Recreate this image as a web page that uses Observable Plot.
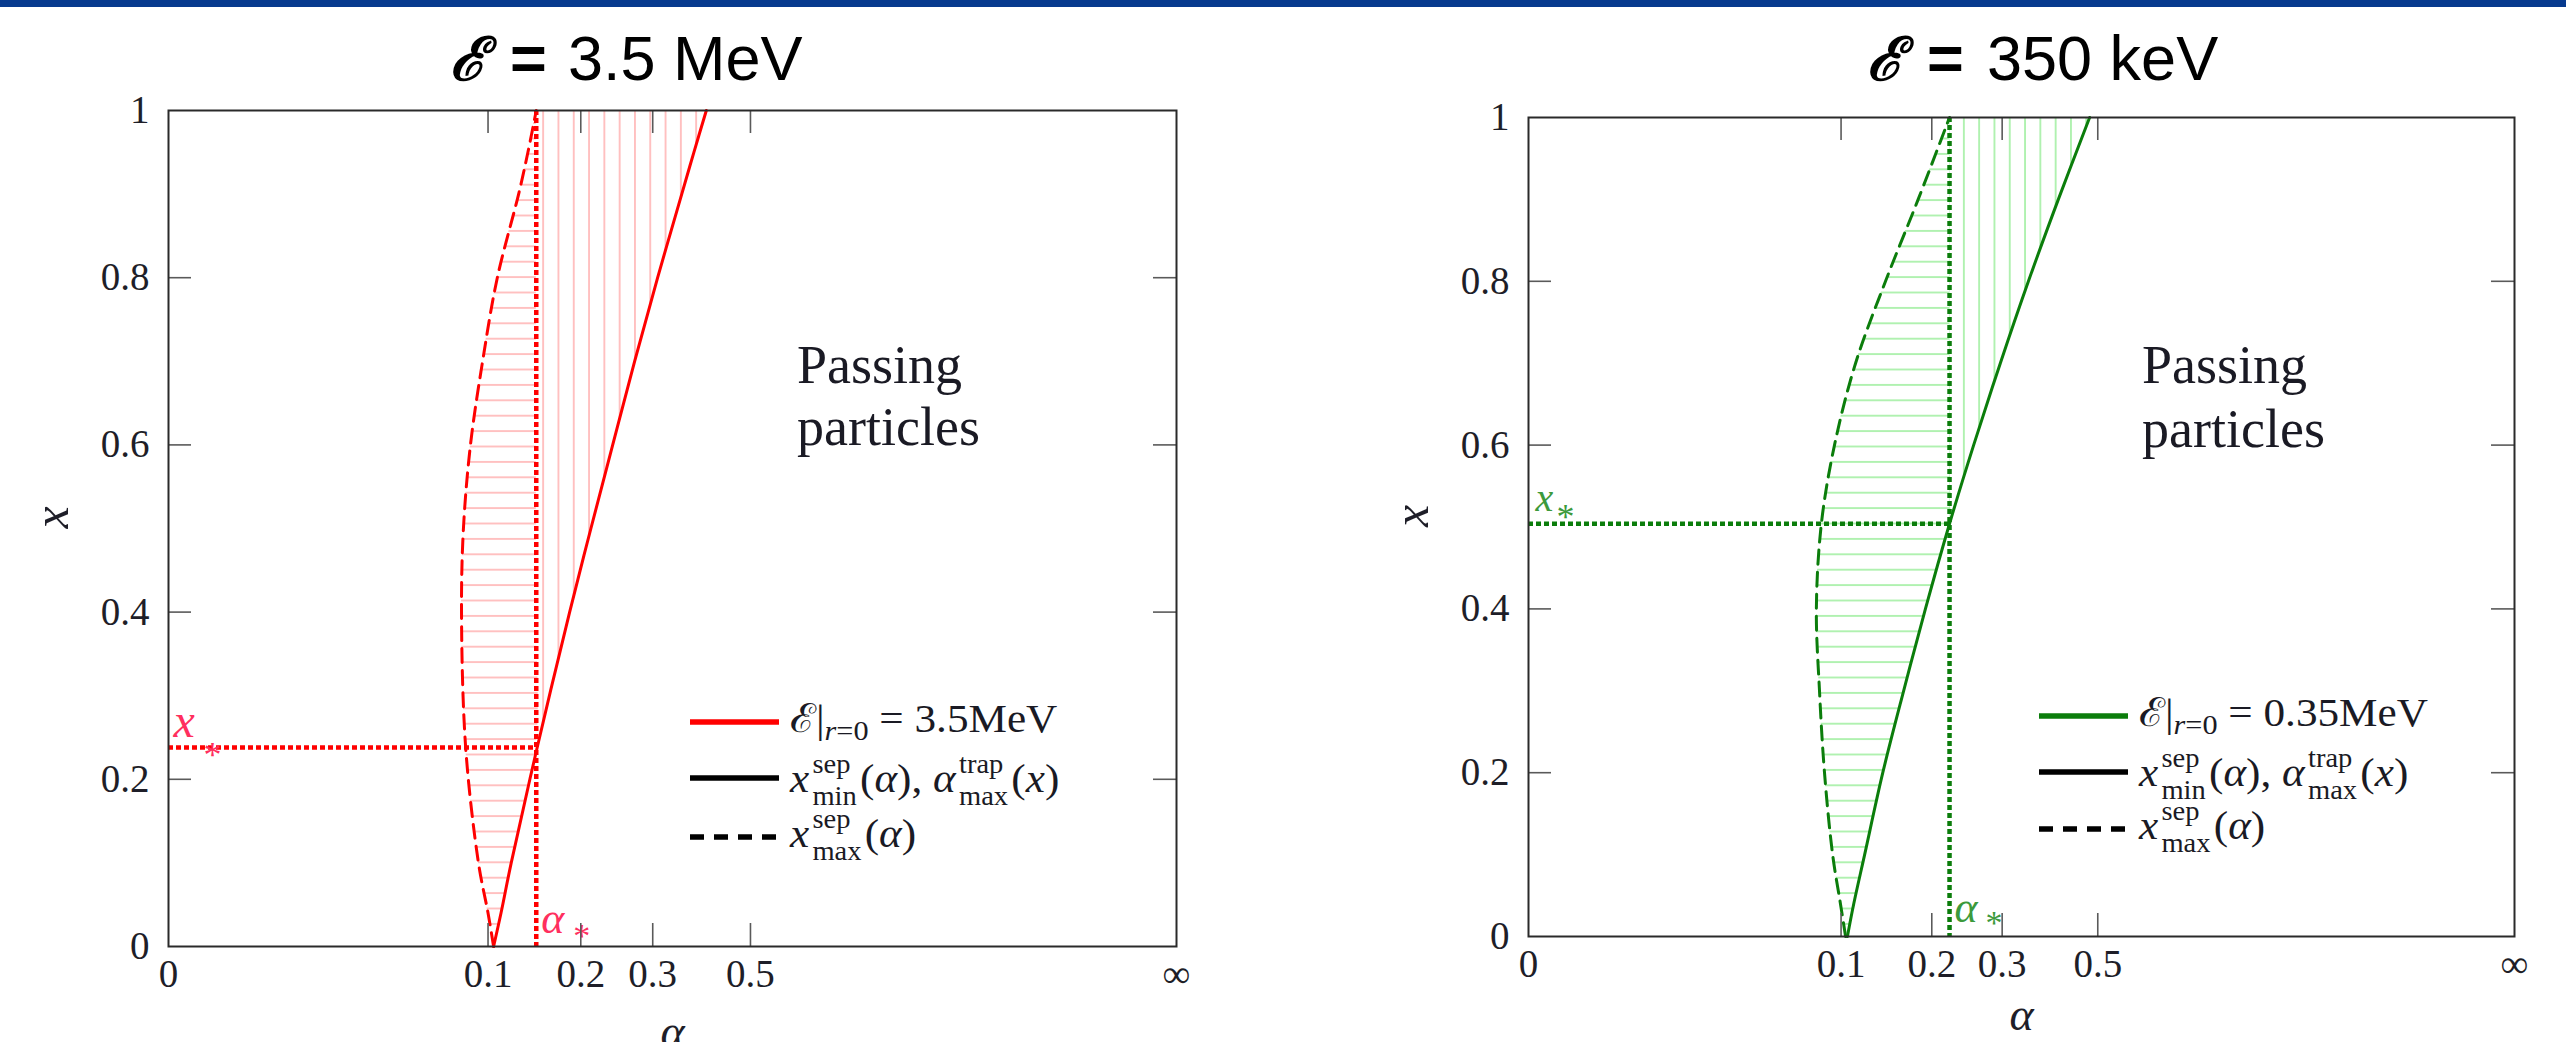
<!DOCTYPE html>
<html><head><meta charset="utf-8">
<script src="https://cdn.jsdelivr.net/npm/d3@7"></script>
<script src="https://cdn.jsdelivr.net/npm/@observablehq/plot@0.6"></script>
<style>
html,body{margin:0;padding:0;background:#fff;overflow:hidden;}
#page{position:relative;width:2566px;height:1042px;overflow:hidden;background:#fff;}
.bar{position:absolute;left:0;top:0;width:2566px;height:7px;background:#073a8e;}
.panel{position:absolute;top:100px;}
#overlay{position:absolute;left:0;top:0;pointer-events:none;}
</style></head>
<body><div id="page"><div class="bar"></div><div id="left" class="panel" style="left:0"></div><div id="right" class="panel" style="left:1283px"></div><svg id="overlay" width="2566" height="1042"></svg></div>
<script>
// ---------- data ----------
// axis ticks (alpha axis is compactified: 0 ... infinity)
const alphaTicks = [0, 0.1, 0.2, 0.3, 0.5, Infinity];
const alphaTickLabels = ["0", "0.1", "0.2", "0.3", "0.5", "\u221E"];
const xTicks = [0, 0.2, 0.4, 0.6, 0.8, 1];
const xTickLabels = ["0", "0.2", "0.4", "0.6", "0.8", "1"];

// Left panel: E = 3.5 MeV
const levelsA = [0, 0.04, 0.1, 0.238, 0.4, 0.5, 0.6, 0.7, 0.8, 0.9, 0.95, 1];
const sepMinA = [0.106, 0.114, 0.125, 0.153, 0.188, 0.213, 0.241, 0.272, 0.308, 0.350, 0.373, 0.398];
const sepMaxA = [0.106, 0.100, 0.097, 0.093, 0.0917, 0.0923, 0.0945, 0.0983, 0.110, 0.133, 0.143, 0.152];
const alphaStarA = 0.152;
const xStarA = 0.238;

// Right panel: E = 350 keV
const levelsB = [0, 0.04, 0.1, 0.2, 0.3, 0.4, 0.504, 0.6, 0.7, 0.8, 0.9, 1];
const sepMinB = [0.107, 0.114, 0.126, 0.146, 0.169, 0.193, 0.223, 0.256, 0.297, 0.346, 0.406, 0.479];
const sepMaxB = [0.105, 0.0998, 0.0973, 0.0947, 0.0931, 0.0921, 0.0937, 0.0979, 0.116, 0.149, 0.185, 0.223];
const alphaStarB = 0.223;
const xStarB = 0.504;

// ---------- compactified alpha axis ----------
function axisMap(a) {
  if (a === Infinity) return 1;
  if (a <= 0.1) return a * 3.17;
  if (a <= 0.2) return 0.317 + (a - 0.1) * 0.92;
  return Math.sqrt(a / (1 + a));
}
const alphaLabel = new Map(alphaTicks.map((d, i) => [d, alphaTickLabels[i]]));
const xLabel = new Map(xTicks.map((d, i) => [d, xTickLabels[i]]));

function addPatterns(svg, id, color) {
  const defs = d3.select(svg).insert("defs", ":first-child");
  const h = defs.append("pattern").attr("id", id + "H").attr("patternUnits", "userSpaceOnUse")
    .attr("width", 20).attr("height", 15.4);
  h.append("line").attr("x1", 0).attr("x2", 20).attr("y1", 7.7).attr("y2", 7.7)
    .attr("stroke", color).attr("stroke-width", 1.7);
  const v = defs.append("pattern").attr("id", id + "V").attr("patternUnits", "userSpaceOnUse")
    .attr("width", 15.3).attr("height", 20);
  v.append("line").attr("y1", 0).attr("y2", 20).attr("x1", 7.65).attr("x2", 7.65)
    .attr("stroke", color).attr("stroke-width", 1.7);
}

function panel(cfg) {
  const rows = cfg.levels.map((x, i) => ({x, min: cfg.sepMin[i], max: cfg.sepMax[i]}));
  const upper = rows.filter(d => d.x >= cfg.xStar);
  const plotW = cfg.width - cfg.ml - cfg.mr;
  const plotH = cfg.height - cfg.mt - cfg.mb;
  const innerA = alphaTicks.filter(d => d > 0 && d < Infinity);
  const innerX = xTicks.filter(d => d > 0 && d < 1);
  const tickStyle = {stroke: "#5a5a5a", strokeWidth: 1.6};
  const dotted = {stroke: cfg.color, strokeWidth: 4.5, strokeDasharray: "5,3"};
  const svg = Plot.plot({
    width: cfg.width, height: cfg.height,
    marginLeft: cfg.ml, marginRight: cfg.mr, marginTop: cfg.mt, marginBottom: cfg.mb,
    style: {fontFamily: "'Liberation Serif', serif", fontSize: "39px", color: "#222", background: "transparent", overflow: "visible"},
    x: {type: "linear", domain: [0, 1], transform: axisMap},
    y: {type: "linear", domain: [0, 1]},
    marks: [
      Plot.areaX(rows, {y: "x", x1: "max", x2: d => Math.min(d.min, cfg.alphaStar), fill: `url(#${cfg.id}H)`, curve: "catmull-rom"}),
      Plot.areaX(upper, {y: "x", x1: cfg.alphaStar, x2: "min", fill: `url(#${cfg.id}V)`, curve: "catmull-rom"}),
      Plot.line(rows, {x: "max", y: "x", stroke: cfg.color, strokeWidth: 3, strokeDasharray: "14,8", curve: "catmull-rom"}),
      Plot.line(rows, {x: "min", y: "x", stroke: cfg.color, strokeWidth: 3, curve: "catmull-rom"}),
      Plot.ruleX([cfg.alphaStar], dotted),
      Plot.ruleY([cfg.xStar], {x1: 0, x2: cfg.alphaStar, ...dotted}),
      Plot.text([cfg.xStar], {x: 0, y: d => d, text: () => "x", textAnchor: "start", lineAnchor: "middle", dx: cfg.xs.dx, dy: cfg.xs.dy, fontSize: cfg.xs.size, fontStyle: "italic", fill: cfg.labelColor}),
      Plot.text([cfg.xStar], {x: 0, y: d => d, text: () => "*", textAnchor: "start", lineAnchor: "middle", dx: cfg.xs.sdx, dy: cfg.xs.sdy, fontSize: 36, fill: cfg.labelColor}),
      Plot.text([cfg.alphaStar], {x: d => d, y: 0, text: () => "\u03B1", textAnchor: "start", lineAnchor: "middle", dx: 5, dy: cfg.as.dy, fontSize: 44, fontStyle: "italic", fill: cfg.labelColor}),
      Plot.text([cfg.alphaStar], {x: d => d, y: 0, text: () => "*", textAnchor: "start", lineAnchor: "middle", dx: cfg.as.sdx, dy: cfg.as.sdy, fontSize: 34, fill: cfg.labelColor}),
      Plot.tickX(innerA, {x: d => d, insetTop: plotH - 23, ...tickStyle}),
      Plot.tickX(innerA, {x: d => d, insetBottom: plotH - 23, ...tickStyle}),
      Plot.tickY(innerX, {y: d => d, insetRight: plotW - 23, ...tickStyle}),
      Plot.tickY(innerX, {y: d => d, insetLeft: plotW - 23, ...tickStyle}),
      Plot.frame({stroke: "#2a2a2a", strokeWidth: 2}),
      Plot.axisX(alphaTicks, {tickFormat: d => alphaLabel.get(d), tickSize: 0, tickPadding: 13, fontSize: 39, fill: "#1e1e28", label: null}),
      Plot.axisY(xTicks, {tickFormat: d => xLabel.get(d), tickSize: 0, tickPadding: 19, fontSize: 39, fill: "#1e1e28", label: null}),
      Plot.text(["x"], {frameAnchor: "left", lineAnchor: "middle", dx: -117, rotate: -90, fontSize: 50, fontStyle: "italic", fill: "#1e1e28"}),
      Plot.text(["\u03B1"], {frameAnchor: "bottom", lineAnchor: "middle", dy: cfg.alphaDy, fontSize: 46, fontStyle: "italic", fill: "#1e1e28"})
    ]
  });
  addPatterns(svg, cfg.id, cfg.hatch);
  document.getElementById(cfg.el).appendChild(svg);
}

panel({
  el: "left", id: "red", width: 1283, height: 942, ml: 168, mr: 107, mt: 10, mb: 96,
  levels: levelsA, sepMin: sepMinA, sepMax: sepMaxA, alphaStar: alphaStarA, xStar: xStarA,
  color: "#ff0000", hatch: "#ffb8b8", labelColor: "#ff2f5e",
  xs: {dx: 5, dy: -26, size: 48, sdx: 35, sdy: 8},
  as: {dy: -28, sdx: 37, sdy: -10},
  alphaDy: 86
});
panel({
  el: "right", id: "grn", width: 1283, height: 942, ml: 245, mr: 52, mt: 17, mb: 106,
  levels: levelsB, sepMin: sepMinB, sepMax: sepMaxB, alphaStar: alphaStarB, xStar: xStarB,
  color: "#0b7d0b", hatch: "#a6f0a6", labelColor: "#3c9a3c",
  xs: {dx: 7, dy: -26, size: 40, sdx: 28, sdy: -6},
  as: {dy: -29, sdx: 36, sdy: -13},
  alphaDy: 79
});

// ---------- overlay: titles, annotations, legends ----------
const ov = d3.select("#overlay");
function put(x, y, t, o, parent) {
  const el = (parent || ov).append("text").attr("x", x).attr("y", y)
    .attr("font-family", o.family || "'Liberation Serif', serif")
    .attr("font-size", o.size).attr("font-style", o.italic ? "italic" : "normal")
    .attr("font-weight", o.bold ? "bold" : "normal").attr("fill", o.color || "#1a1a24")
    .style("white-space", "pre").text(t);
  return el.node().getComputedTextLength();
}
function run(g, x, baseline, parts, base) {
  let cx = x;
  for (const p of parts) {
    if (p.stack) {
      cx += 3;
      const s = {...base, size: base.size * 0.66, italic: false};
      const w1 = put(cx, baseline - 19, p.stack[0], s, g);
      const w2 = put(cx, baseline + 13, p.stack[1], s, g);
      cx += Math.max(w1, w2) + 3;
    } else {
      cx += put(cx, baseline + (p.shift || 0), p.t, {...base, ...p}, g);
    }
  }
}
// titles
function title(xE, xEq, xTxt, txt) {
  put(xE, 80, "\u2130", {family: "'DejaVu Serif'", size: 60, bold: true, italic: true, color: "#000"});
  put(xEq, 80, "=", {family: "'Liberation Sans', Arial", size: 63, bold: true, color: "#000"});
  put(xTxt, 80, txt, {family: "'Liberation Sans', Arial", size: 63, color: "#000"});
}
title(450, 510, 568, "3.5 MeV");
title(1867, 1927, 1987, "350 keV");

// Passing particles
for (const [x, b2] of [[797, 445], [2142, 447]]) {
  put(x, 383, "Passing", {size: 54});
  put(x, b2, "particles", {size: 54});
}

// legends
function legend(x0, ys, color, energy) {
  const sw = [[color, null], ["#000", null], ["#000", "14,10"]];
  ys.forEach((y, i) => {
    ov.append("line").attr("x1", x0).attr("x2", x0 + 89).attr("y1", y).attr("y2", y)
      .attr("stroke", sw[i][0]).attr("stroke-width", 5.5).attr("stroke-dasharray", sw[i][1]);
  });
  const tx = x0 + 100;
  const g = ov.append("g").attr("transform", `translate(${tx},0) scale(1.08,1) translate(${-tx},0)`);
  const base = {size: 40};
  run(g, tx, ys[0] + 10, [
    {t: "\u2130", family: "'DejaVu Serif'"}, {t: "|"},
    {t: "r", italic: true, size: 28, shift: 8}, {t: "=0", size: 28, shift: 8},
    {t: " = " + energy}
  ], base);
  run(g, tx, ys[1] + 14, [
    {t: "x", italic: true}, {stack: ["sep", "min"]}, {t: "("}, {t: "\u03B1", italic: true},
    {t: "), "}, {t: "\u03B1", italic: true}, {stack: ["trap", "max"]}, {t: "("},
    {t: "x", italic: true}, {t: ")"}
  ], base);
  run(g, tx, ys[2] + 10, [
    {t: "x", italic: true}, {stack: ["sep", "max"]}, {t: "("}, {t: "\u03B1", italic: true}, {t: ")"}
  ], base);
}
legend(690, [722, 778, 837], "#ff0000", "3.5MeV");
legend(2039, [716, 772, 829], "#0b7d0b", "0.35MeV");
</script>
</body></html>
